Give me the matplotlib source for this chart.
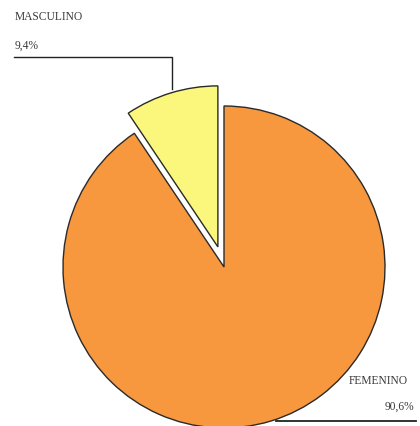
import matplotlib
matplotlib.use('Agg')
import matplotlib.pyplot as plt

# datos
categorias = ['MASCULINO', 'FEMENINO']
valores = [9.4, 90.6]
etiquetas = ['9,4%', '90,6%']
colores = ['#FAF77C', '#F7983F']

plt.rcParams['font.family'] = ['Liberation Serif', 'DejaVu Serif']

fig = plt.figure(figsize=(4.2, 4.27), dpi=100)
ax = fig.add_axes([0, 0, 1, 1])

# pastel, empieza a las 12 en sentido antihorario
# (explode en matplotlib es absoluto, no relativo al radio)
ax.pie(valores, colors=colores, startangle=90, counterclock=True,
       explode=[21, 0], center=(224, 159), radius=161,
       wedgeprops=dict(edgecolor='#2a2a2a', linewidth=1.0))

# limites en pixeles (despues de pie, que los reinicia)
ax.set_xlim(0, 420)
ax.set_ylim(0, 427)
ax.set_aspect('equal')
ax.axis('off')

# lineas guia
ax.plot([14, 172, 172], [369, 369, 337], color='#222222', lw=1.0)
ax.plot([276, 416], [5, 5], color='#222222', lw=1.3)

# textos
ax.text(15, 410, categorias[0], fontsize=8.3, color='#3a3a3a', va='center')
ax.text(15, 381, etiquetas[0], fontsize=8.3, color='#3a3a3a', va='center')
ax.text(349, 46, categorias[1], fontsize=8.3, color='#3a3a3a', va='center')
ax.text(414, 20, etiquetas[1], fontsize=8.3, color='#3a3a3a', va='center', ha='right')

fig.savefig('out.png', dpi=100)
